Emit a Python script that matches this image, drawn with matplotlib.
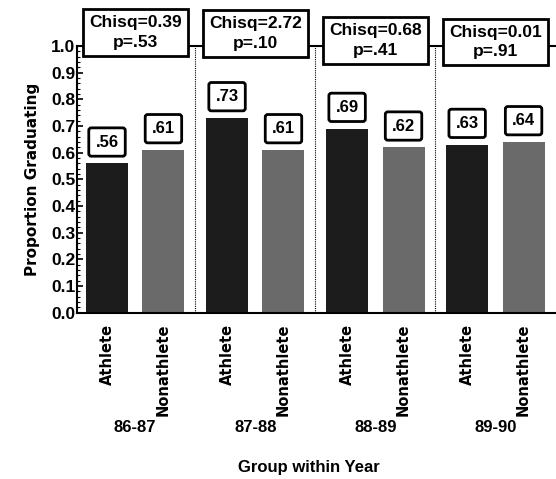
import matplotlib.pyplot as plt
import numpy as np

years = ['86-87', '87-88', '88-89', '89-90']
groups = ['Athlete', 'Nonathlete']
athlete = [0.56, 0.73, 0.69, 0.63]
nonathlete = [0.61, 0.61, 0.62, 0.64]
athlete_labels = ['.56', '.73', '.69', '.63']
nonathlete_labels = ['.61', '.61', '.62', '.64']
chisq = ['0.39', '2.72', '0.68', '0.01']
pvals = ['.53', '.10', '.41', '.91']
box_y = [1.052, 1.048, 1.022, 1.015]

plt.rcParams['font.family'] = ['Liberation Sans', 'DejaVu Sans']
plt.rcParams['font.weight'] = 'bold'

fig = plt.figure(figsize=(5.56, 4.79), dpi=100)
ax = fig.add_axes([0.1385, 0.347, 0.8615, 0.557])

g = np.arange(len(years))
off = 0.47
width = 0.35
ax.bar(g, athlete, width, color='#1c1c1c', zorder=2)
ax.bar(g + off, nonathlete, width, color='#6a6a6a', zorder=2)

lab_kw = dict(ha='center', va='center', fontsize=12, fontweight='bold',
              bbox=dict(boxstyle='round,pad=0.4,rounding_size=0.15', fc='white', ec='black', lw=2))
for i in range(len(years)):
    ax.text(g[i], athlete[i] + 0.08, athlete_labels[i], **lab_kw)
    ax.text(g[i] + off, nonathlete[i] + 0.08, nonathlete_labels[i], **lab_kw)

# separators between years
for s in g[:-1] + (off + 1) / 2:
    ax.plot([s, s], [0, 1.0], ls=(0, (1, 1)), color='black', lw=0.8, zorder=1)

# line joining chisq boxes
ax.plot([-0.25, 3.74], [1.0, 1.0], color='black', lw=1.5, clip_on=False, zorder=3)
for i in range(len(years)):
    ax.text(g[i] + off / 2, box_y[i], f'Chisq={chisq[i]}\np={pvals[i]}',
            ha='center', va='center', fontsize=12.5, fontweight='bold', linespacing=1.4,
            bbox=dict(boxstyle='square,pad=0.35', fc='white', ec='black', lw=2),
            clip_on=False, zorder=4)

ax.set_xlim(-0.25, 3.74)
ax.set_ylim(0, 1.0)
ax.set_yticks(np.arange(0, 1.01, 0.1))
ax.set_yticklabels([f'{v:.1f}' for v in np.arange(0, 1.01, 0.1)], fontsize=12.5, fontweight='bold')
ax.set_yticks(np.arange(0, 1.001, 0.02), minor=True)
ax.tick_params(axis='y', which='major', direction='in', length=4, width=1.2, pad=1)
ax.tick_params(axis='y', which='minor', direction='in', length=2, width=0.8)

xpos = np.concatenate([g, g + off])
xlab = [groups[0]] * len(years) + [groups[1]] * len(years)
ax.set_xticks(xpos)
ax.set_xticklabels(xlab, rotation=90, fontsize=10.5, fontweight='bold', va='top',
                   family='DejaVu Sans')
ax.tick_params(axis='x', length=0, pad=8)

for i, y in enumerate(years):
    ax.text(g[i] + off / 2, -0.43, y, ha='center', va='center', fontsize=12,
            fontweight='bold')

ax.set_ylabel('Proportion Graduating', fontsize=11, fontweight='bold', labelpad=8,
              family='DejaVu Sans')
fig.text(0.556, 0.023, 'Group within Year', ha='center', va='center', fontsize=12,
         fontweight='bold')

for sp in ['top', 'right']:
    ax.spines[sp].set_visible(False)
ax.spines['left'].set_linewidth(1.5)
ax.spines['bottom'].set_linewidth(1.5)

fig.savefig('out.png', dpi=100)
